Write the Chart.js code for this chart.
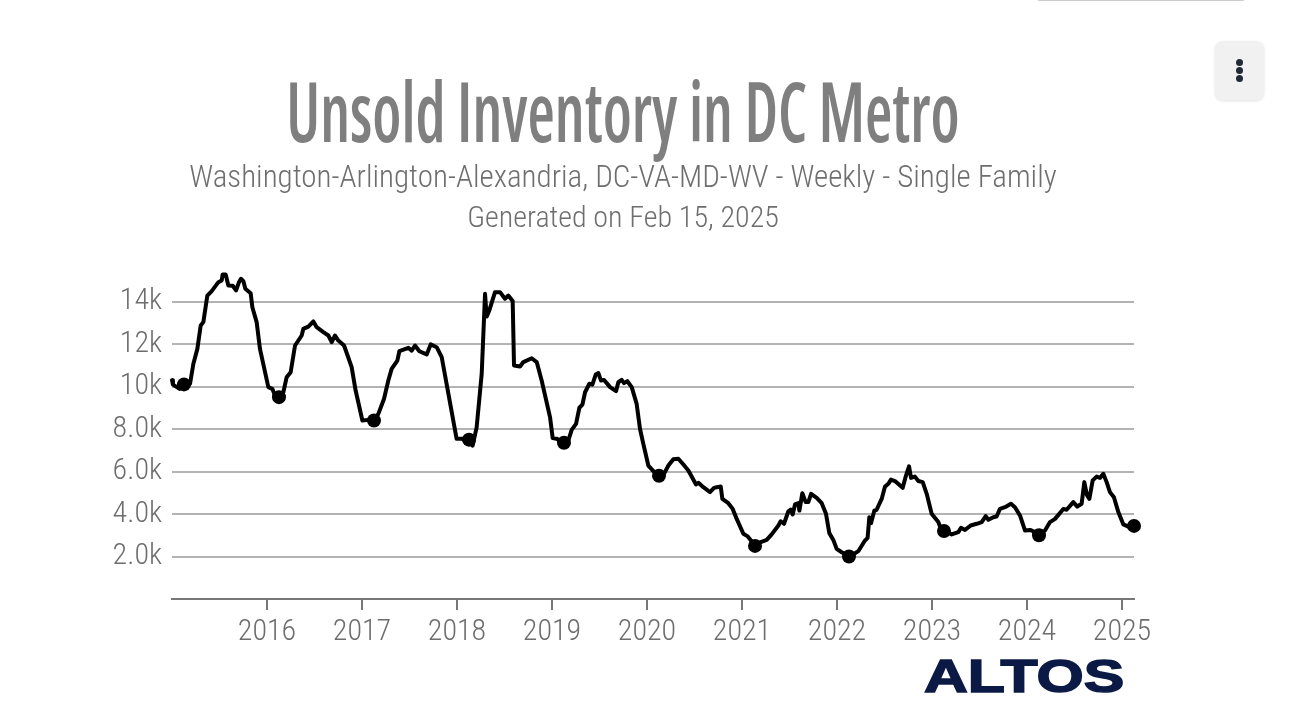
<!DOCTYPE html>
<html>
<head>
<meta charset="utf-8">
<title>Unsold Inventory in DC Metro</title>
<script src="https://cdn.jsdelivr.net/npm/chart.js@4/dist/chart.umd.min.js"></script>
<style>
    html, body { margin: 0; padding: 0; background: #fff; overflow: hidden; }
    #wrap { position: relative; width: 1290px; height: 724px; }
    #myChart { position: absolute; left: 0; top: 0; }
    .txt { position: absolute; white-space: nowrap; font-family: "Roboto Condensed", sans-serif; text-align: center; }
    #title { left: 0; width: 1246px; top: 62px; font-family: "Open Sans", sans-serif; font-stretch: 75%; font-size: 84px; line-height: 96px; font-weight: 600; color: #7f7f7f; transform: scaleX(0.747); }
    #sub1 { left: 0; width: 1246px; top: 159px; font-size: 31px; line-height: 36px; font-weight: 300; color: #6e6e6e; }
    #sub2 { left: 0; width: 1246px; top: 199px; font-size: 30px; line-height: 36px; font-weight: 300; color: #6e6e6e; }
    #logo { left: 924px; top: 650px; font-family: "Liberation Sans", sans-serif; font-weight: bold; font-size: 46px; line-height: 52px; color: #0b1a45; transform-origin: left center; transform: scaleX(1.32); -webkit-text-stroke: 1.5px #0b1a45; }
    #menu { position: absolute; left: 1215px; top: 41px; width: 49px; height: 59px; border-radius: 8px; background: #f1f1f1; box-shadow: 0 1px 3px rgba(0,0,0,0.12); }
    #menu span { position: absolute; left: 21px; width: 7px; height: 7px; border-radius: 50%; background: #1f2937; }
    #topbar { position: absolute; left: 1036px; top: -3px; width: 210px; height: 4px; background: #ccc; border-radius: 0 0 8px 8px; }
</style>
</head>
<body>
<div id="wrap">
    <canvas id="myChart" width="1290" height="724"></canvas>
    <div id="topbar"></div>
    <div class="txt" id="title">Unsold Inventory in DC Metro</div>
    <div class="txt" id="sub1">Washington-Arlington-Alexandria, DC-VA-MD-WV - Weekly - Single Family</div>
    <div class="txt" id="sub2">Generated on Feb 15, 2025</div>
    <div class="txt" id="logo">ALTOS</div>
    <div id="menu"><span style="top:18px"></span><span style="top:26px"></span><span style="top:34px"></span></div>
</div>
<script>
// values, dates as decimal years, inventory in thousands
var dates = [
    2015.00, 2015.01, 2015.08, 2015.126, 2015.19, 2015.225, 2015.267, 2015.302, 2015.33, 2015.372, 2015.418, 2015.488, 2015.523, 2015.533, 2015.565, 2015.593, 2015.639, 2015.674, 2015.705, 2015.726, 2015.751, 2015.772, 2015.828, 2015.846, 2015.891, 2015.926,
    2016.014, 2016.056, 2016.084, 2016.126, 2016.172, 2016.207, 2016.249, 2016.295, 2016.365, 2016.382, 2016.435, 2016.488, 2016.523, 2016.593, 2016.646, 2016.681, 2016.716, 2016.751, 2016.811, 2016.891, 2016.933,
    2017.004, 2017.067, 2017.126, 2017.172, 2017.232, 2017.277, 2017.312, 2017.372, 2017.393, 2017.488, 2017.523, 2017.558, 2017.604, 2017.681, 2017.723, 2017.786, 2017.839, 2017.874, 2017.996,
    2018.049, 2018.119, 2018.165, 2018.207, 2018.26, 2018.295, 2018.312, 2018.34, 2018.4, 2018.453, 2018.505, 2018.54, 2018.586, 2018.6, 2018.663, 2018.698, 2018.786, 2018.839, 2018.891, 2018.979, 2019.007,
    2019.05, 2019.12, 2019.172, 2019.207, 2019.253, 2019.288, 2019.32, 2019.348, 2019.393, 2019.425, 2019.46, 2019.488, 2019.516, 2019.548, 2019.611, 2019.674, 2019.698, 2019.733, 2019.758, 2019.793, 2019.839, 2019.891, 2019.926, 2019.961,
    2020.014, 2020.067, 2020.12, 2020.179, 2020.225, 2020.277, 2020.33, 2020.383, 2020.435, 2020.516, 2020.541, 2020.593, 2020.663, 2020.705, 2020.734, 2020.776, 2020.793, 2020.856, 2020.902, 2020.944,
    2021.014, 2021.056, 2021.137, 2021.19, 2021.26, 2021.312, 2021.383, 2021.407, 2021.442, 2021.488, 2021.512, 2021.533, 2021.558, 2021.593, 2021.604, 2021.635, 2021.67, 2021.698, 2021.727, 2021.786, 2021.839, 2021.884, 2021.919, 2021.961, 2021.996,
    2022.049, 2022.137, 2022.224, 2022.294, 2022.322, 2022.34, 2022.358, 2022.393, 2022.417, 2022.47, 2022.505, 2022.54, 2022.568, 2022.61, 2022.691, 2022.726, 2022.758, 2022.779, 2022.82, 2022.856, 2022.902, 2022.944, 2022.996,
    2023.066, 2023.1, 2023.137, 2023.207, 2023.277, 2023.305, 2023.347, 2023.407, 2023.47, 2023.523, 2023.565, 2023.593, 2023.645, 2023.68, 2023.715, 2023.768, 2023.831, 2023.873, 2023.926, 2023.979,
    2024.032, 2024.126, 2024.189, 2024.242, 2024.295, 2024.382, 2024.417, 2024.487, 2024.529, 2024.575, 2024.603, 2024.63, 2024.656, 2024.691, 2024.733, 2024.768, 2024.803, 2024.838, 2024.873, 2024.915, 2024.961,
    2025.014, 2025.066, 2025.126
];
var inventory = [
    10.3, 10.09, 9.89, 10.1, 10.13, 11.07, 11.77, 12.87, 13.03, 14.28, 14.49, 14.91, 14.99, 15.27, 15.27, 14.75, 14.74, 14.52, 14.91, 15.07, 14.96, 14.6, 14.39, 13.73, 13.03, 11.77,
    9.97, 9.89, 9.58, 9.5, 9.73, 10.44, 10.67, 11.93, 12.4, 12.71, 12.82, 13.06, 12.79, 12.56, 12.4, 12.09, 12.4, 12.16, 11.93, 10.91, 9.81,
    8.4, 8.43, 8.4, 8.71, 9.42, 10.28, 10.83, 11.22, 11.66, 11.82, 11.69, 11.93, 11.66, 11.51, 11.98, 11.85, 11.38, 10.52, 7.54,
    7.54, 7.46, 7.22, 8.09, 10.6, 14.36, 13.29, 13.58, 14.44, 14.44, 14.13, 14.28, 14.02, 10.99, 10.94, 11.15, 11.33, 11.15, 10.28, 8.56, 7.58,
    7.54, 7.33, 7.46, 7.96, 8.24, 9.0, 9.15, 9.73, 10.13, 10.09, 10.56, 10.63, 10.28, 10.31, 9.97, 9.78, 10.2, 10.31, 10.16, 10.25, 9.97, 9.18, 8.01, 7.3,
    6.28, 6.02, 5.81, 5.89, 6.28, 6.58, 6.6, 6.33, 6.05, 5.39, 5.47, 5.26, 5.03, 5.23, 5.26, 5.29, 4.71, 4.51, 4.24, 3.77,
    3.07, 2.96, 2.52, 2.67, 2.78, 3.04, 3.46, 3.66, 3.54, 4.13, 4.21, 3.98, 4.45, 4.51, 4.16, 4.98, 4.56, 4.56, 4.95, 4.76, 4.51, 4.01, 3.1, 2.78, 2.36,
    2.2, 2.0, 2.25, 2.75, 2.88, 3.85, 3.57, 4.16, 4.2, 4.71, 5.29, 5.42, 5.62, 5.55, 5.23, 5.81, 6.24, 5.7, 5.76, 5.55, 5.5, 4.95, 4.01,
    3.62, 3.22, 3.22, 3.04, 3.15, 3.35, 3.25, 3.46, 3.54, 3.62, 3.9, 3.73, 3.85, 3.88, 4.24, 4.32, 4.48, 4.32, 3.93, 3.22,
    3.25, 3.07, 3.22, 3.62, 3.77, 4.24, 4.2, 4.56, 4.35, 4.48, 5.5, 4.9, 4.71, 5.58, 5.76, 5.7, 5.89, 5.5, 5.03, 4.79, 4.09,
    3.51, 3.41, 3.44
];

var dotDates = [2015.126, 2016.126, 2017.126, 2018.126, 2019.126, 2020.126, 2021.137, 2022.126, 2023.126, 2024.126, 2025.126];
var dotValues = [10.1, 9.5, 8.4, 7.5, 7.35, 5.8, 2.5, 2.0, 3.2, 3.0, 3.44];

var yearTicks = [2016, 2017, 2018, 2019, 2020, 2021, 2022, 2023, 2024, 2025];
var valueTicks = [2, 4, 6, 8, 10, 12, 14];
var valueLabels = ['2.0k', '4.0k', '6.0k', '8.0k', '10k', '12k', '14k'];

var linePoints = dates.map(function (d, i) {
    return { x: d, y: inventory[i] };
});
var dotPoints = dotDates.map(function (d, i) {
    return { x: d, y: dotValues[i] };
});

var tickFont = { family: '"Roboto Condensed", sans-serif', size: 30, weight: '300' };

new Chart(document.getElementById('myChart'), {
    type: 'line',
    data: {
        datasets: [{
            data: linePoints,
            borderColor: '#000',
            borderWidth: 4,
            borderJoinStyle: 'round',
            borderCapStyle: 'round',
            pointRadius: 0,
            tension: 0,
            clip: false
        }, {
            data: dotPoints,
            showLine: false,
            pointRadius: 7,
            pointBackgroundColor: '#000',
            pointBorderWidth: 0,
            clip: false
        }]
    },
    options: {
        responsive: false,
        animation: false,
        layout: { padding: { top: 265, right: 156, left: 0, bottom: 0 } },
        plugins: {
            legend: { display: false },
            tooltip: { enabled: false }
        },
        scales: {
            x: {
                type: 'linear',
                min: 2015,
                max: 2025.126,
                afterBuildTicks: function (scale) {
                    scale.ticks = yearTicks.map(function (v) { return { value: v }; });
                },
                afterFit: function (scale) { scale.height = 125; },
                border: { color: '#777', width: 2 },
                grid: { drawOnChartArea: false, drawTicks: true, tickLength: 11, color: '#777', lineWidth: 2 },
                ticks: {
                    color: '#6e6e6e',
                    font: tickFont,
                    padding: 4,
                    maxRotation: 0,
                    autoSkip: false,
                    callback: function (v) { return String(v); }
                }
            },
            y: {
                min: 0,
                max: 15.718,
                afterBuildTicks: function (scale) {
                    scale.ticks = valueTicks.map(function (v) { return { value: v }; });
                },
                afterFit: function (scale) { scale.width = 172; },
                border: { display: false },
                grid: { drawTicks: false, color: '#b3b3b3', lineWidth: 2 },
                ticks: {
                    color: '#6e6e6e',
                    font: tickFont,
                    padding: 10,
                    autoSkip: false,
                    callback: function (v) { return valueLabels[valueTicks.indexOf(v)]; }
                }
            }
        }
    }
});
</script>
</body>
</html>
